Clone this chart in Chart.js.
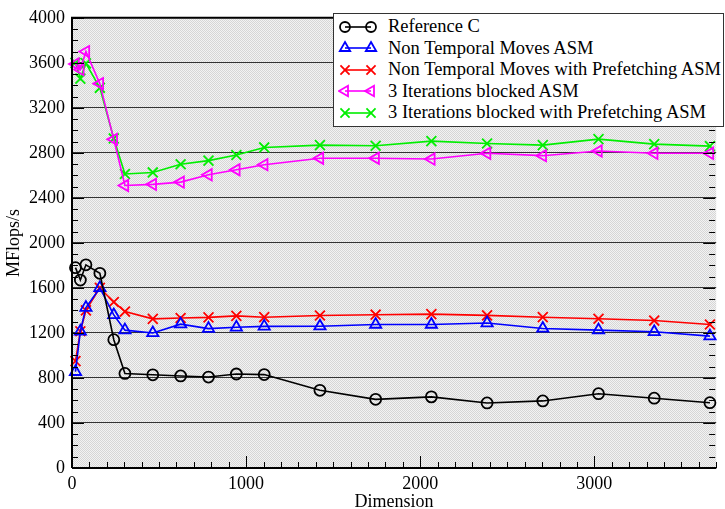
<!DOCTYPE html>
<html>
<head>
<meta charset="utf-8">
<script src="https://cdn.jsdelivr.net/npm/chart.js@4/dist/chart.umd.min.js"></script>
<style>
    html, body { margin: 0; padding: 0; background: #fff; }
    #wrap { position: relative; width: 725px; height: 509px; overflow: hidden; }
    #legend {
        position: absolute; left: 333px; top: 13px; width: 391px; height: 114px;
        background: #fff; border: 1.5px solid #333; box-sizing: border-box;
        font-family: 'Liberation Serif', 'DejaVu Serif', serif; font-size: 18.5px; color: #000;
        padding-top: 2px;
    }
    #legend .row { display: flex; align-items: center; height: 21.5px; white-space: nowrap; }
    #legend svg { margin-left: 4px; margin-right: 10px; flex: none; }
</style>
</head>
<body>
<div id="wrap">
    <canvas id="perf-chart" width="725" height="509"></canvas>
    <div id="legend"></div>
</div>
<script>
// Matrix dimensions (x axis)
const dimensions = [20, 48, 80, 160, 240, 304, 464, 624, 784, 944, 1104, 1424, 1744, 2064, 2384, 2704, 3024, 3344, 3664];

// MFlops/s per implementation
const referenceC = [1780, 1670, 1805, 1730, 1140, 840, 828, 818, 808, 835, 830, 690, 610, 632, 578, 596, 660, 620, 580];
const nonTemporal = [855, 1215, 1425, 1600, 1360, 1225, 1200, 1278, 1238, 1250, 1258, 1260, 1275, 1275, 1288, 1240, 1225, 1210, 1172];
const nonTemporalPrefetch = [950, 1215, 1400, 1600, 1475, 1390, 1325, 1333, 1338, 1352, 1340, 1355, 1362, 1367, 1356, 1340, 1326, 1310, 1275];
const blocked3 = [3590, 3540, 3700, 3415, 2920, 2510, 2520, 2540, 2605, 2650, 2695, 2752, 2752, 2745, 2796, 2775, 2816, 2796, 2796];
const blocked3Prefetch = [3600, 3460, 3595, 3378, 2928, 2612, 2626, 2699, 2731, 2781, 2848, 2869, 2863, 2904, 2883, 2869, 2922, 2878, 2860];

// Axis ticks
const xTicks = [0, 1000, 2000, 3000];
const yTicks = [0, 400, 800, 1200, 1600, 2000, 2400, 2800, 3200, 3600, 4000];

const serif = "'Liberation Serif', 'DejaVu Serif', serif";

const series = [
    { label: 'Reference C', data: referenceC, color: '#000000', style: 'circle', radius: 5.5, rotation: 0 },
    { label: 'Non Temporal Moves ASM', data: nonTemporal, color: '#0000ff', style: 'triangle', radius: 6.5, rotation: 0 },
    { label: 'Non Temporal Moves with Prefetching ASM', data: nonTemporalPrefetch, color: '#ff0000', style: 'crossRot', radius: 7, rotation: 0 },
    { label: '3 Iterations blocked ASM', data: blocked3, color: '#ff00ff', style: 'triangle', radius: 6.5, rotation: -90 },
    { label: '3 Iterations blocked with Prefetching ASM', data: blocked3Prefetch, color: '#00ee00', style: 'crossRot', radius: 7, rotation: 0 }
];

// Dotted grey background like the original plot
function makePattern(ctx) {
    const c = document.createElement('canvas');
    c.width = 2; c.height = 2;
    const p = c.getContext('2d');
    p.fillStyle = '#f3f3f3';
    p.fillRect(0, 0, 2, 2);
    p.fillStyle = '#d6d6d6';
    p.fillRect(0, 0, 1, 1);
    p.fillRect(1, 1, 1, 1);
    return ctx.createPattern(c, 'repeat');
}

const framePlugin = {
    id: 'frame',
    beforeDraw(chart) {
        const { ctx, chartArea: a } = chart;
        ctx.save();
        ctx.fillStyle = makePattern(ctx);
        ctx.fillRect(a.left, a.top, a.right - a.left, a.bottom - a.top);
        ctx.restore();
    },
    afterDatasetsDraw(chart) {
        const { ctx, chartArea: a, scales: { x, y } } = chart;
        ctx.save();
        ctx.strokeStyle = '#000';
        ctx.lineWidth = 1;
        ctx.beginPath();
        // x ticks, pointing up
        for (let v = 0; v <= 3700; v += 100) {
            const px = Math.round(x.getPixelForValue(v)) + 0.5;
            const len = v % 1000 === 0 ? 12 : 6;
            ctx.moveTo(px, a.bottom);
            ctx.lineTo(px, a.bottom - len);
        }
        // y ticks, left and right
        for (let v = 0; v <= 4000; v += 100) {
            const py = Math.round(y.getPixelForValue(v)) + 0.5;
            const len = v % 400 === 0 ? 12 : 6;
            ctx.moveTo(a.left, py);
            ctx.lineTo(a.left + len, py);
            ctx.moveTo(a.right - 1, py);
            ctx.lineTo(a.right - 1 - len, py);
        }
        ctx.stroke();
        // frame
        ctx.lineWidth = 2;
        ctx.beginPath();
        ctx.moveTo(a.left, a.bottom);
        ctx.lineTo(a.left, a.top);
        ctx.lineTo(a.right, a.top);
        ctx.moveTo(a.left, a.bottom);
        ctx.lineTo(a.right, a.bottom);
        ctx.stroke();
        ctx.restore();
    }
};

const chart = new Chart(document.getElementById('perf-chart'), {
    type: 'line',
    data: {
        datasets: series.map(s => ({
            label: s.label,
            data: dimensions.map((d, i) => ({ x: d, y: s.data[i] })),
            borderColor: s.color,
            backgroundColor: 'transparent',
            borderWidth: 1.6,
            pointStyle: s.style,
            pointRadius: s.radius,
            pointRotation: s.rotation,
            pointBorderWidth: 1.8,
            pointBorderColor: s.color,
            pointBackgroundColor: 'transparent',
            tension: 0,
            fill: false,
            clip: false
        }))
    },
    options: {
        responsive: false,
        animation: false,
        layout: { padding: { top: 13, right: 0, left: 0, bottom: 0 } },
        plugins: {
            legend: { display: false },
            tooltip: { enabled: false }
        },
        scales: {
            x: {
                type: 'linear',
                min: 0,
                max: 3700,
                afterBuildTicks: scale => { scale.ticks = xTicks.map(v => ({ value: v })); },
                afterFit: scale => { scale.height = 41; },
                grid: { display: false, drawTicks: false },
                border: { display: false },
                ticks: {
                    color: '#000', padding: 5, maxRotation: 0,
                    font: { family: serif, size: 18 },
                    callback: v => String(v)
                },
                title: {
                    display: true, text: 'Dimension', color: '#000',
                    padding: { top: 0, bottom: -2 },
                    font: { family: serif, size: 18, lineHeight: 1 }
                }
            },
            y: {
                min: 0,
                max: 4000,
                afterBuildTicks: scale => { scale.ticks = yTicks.map(v => ({ value: v })); },
                afterFit: scale => { scale.width = 72; },
                grid: { color: '#333', lineWidth: 1, drawTicks: false },
                border: { display: false },
                ticks: {
                    color: '#000', padding: 7,
                    font: { family: serif, size: 18 },
                    callback: v => String(v)
                },
                title: {
                    display: true, text: 'MFlops/s', color: '#000',
                    padding: { top: 5, bottom: 0 },
                    font: { family: serif, size: 18, lineHeight: 1 }
                }
            }
        }
    },
    plugins: [framePlugin]
});

// Legend with marker-line-marker symbols
function markerSvg(s, cx, cy) {
    const r = s.radius - 0.5;
    if (s.style === 'circle') {
        return `<circle cx="${cx}" cy="${cy}" r="${r}" fill="none" stroke="${s.color}" stroke-width="1.8"/>`;
    }
    if (s.style === 'crossRot') {
        const d = r * 0.7;
        return `<path d="M${cx - d} ${cy - d}L${cx + d} ${cy + d}M${cx + d} ${cy - d}L${cx - d} ${cy + d}" stroke="${s.color}" stroke-width="1.8"/>`;
    }
    const pts = [0, 120, 240].map(a => {
        const rad = (a + s.rotation) * Math.PI / 180;
        return `${cx + Math.sin(rad) * r},${cy - Math.cos(rad) * r}`;
    }).join(' ');
    return `<polygon points="${pts}" fill="none" stroke="${s.color}" stroke-width="1.8"/>`;
}

const legend = document.getElementById('legend');
series.forEach(s => {
    const row = document.createElement('div');
    row.className = 'row';
    row.innerHTML = `<svg width="40" height="20" viewBox="0 0 40 20">
        <line x1="7" y1="10" x2="33" y2="10" stroke="${s.color}" stroke-width="1.6"/>
        ${markerSvg(s, 7, 10)}${markerSvg(s, 33, 10)}</svg><span>${s.label}</span>`;
    legend.appendChild(row);
});
</script>
</body>
</html>
